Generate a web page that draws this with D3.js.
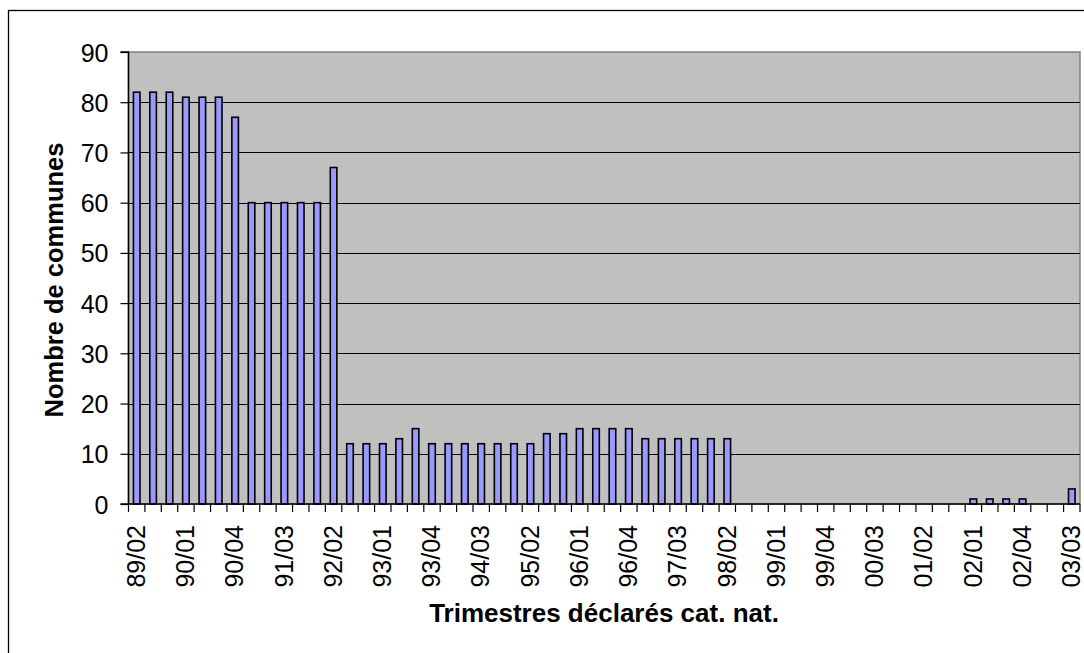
<!DOCTYPE html>
<html><head><meta charset="utf-8">
<script src="https://cdn.jsdelivr.net/npm/d3@7"></script>
<style>
html,body{margin:0;padding:0;background:#fff;}
svg{display:block;}
text{font-family:"Liberation Sans",Arial,sans-serif;}
</style></head>
<body>
<svg id="chart" width="1084" height="653"></svg>
<script>
const categories = ["89/02","89/03","89/04","90/01","90/02","90/03","90/04","91/01","91/02","91/03","91/04","92/01","92/02","92/03","92/04","93/01","93/02","93/03","93/04","94/01","94/02","94/03","94/04","95/01","95/02","95/03","95/04","96/01","96/02","96/03","96/04","97/01","97/02","97/03","97/04","98/01","98/02","98/03","98/04","99/01","99/02","99/03","99/04","00/01","00/02","00/03","00/04","01/01","01/02","01/03","01/04","02/01","02/02","02/03","02/04","03/01","03/02","03/03"];
const values = [82,82,82,81,81,81,77,60,60,60,60,60,67,12,12,12,13,15,12,12,12,12,12,12,12,14,14,15,15,15,15,13,13,13,13,13,13,0,0,0,0,0,0,0,0,0,0,0,0,0,0,1,1,1,1,0,0,3];
const yTicks = [0,10,20,30,40,50,60,70,80,90];
const xTickLabels = categories.filter((d,i)=>i%3===0);
const yTitle = "Nombre de communes";
const xTitle = "Trimestres déclarés cat. nat.";

const svg = d3.select("#chart");
const L = 128.5, R = 1080, T = 52, B = 504;

// outer frame
svg.append("rect").attr("x",8.5).attr("y",10.5).attr("width",1200).attr("height",800)
  .attr("fill","#fff").attr("stroke","#000").attr("stroke-width",1.3);

const x = d3.scaleBand().domain(categories).range([L,R]).paddingInner(0.6).paddingOuter(0.3);
const y = d3.scaleLinear().domain([0,90]).range([B,T]);

// plot area
svg.append("rect").attr("x",L).attr("y",T).attr("width",R-L).attr("height",B-T)
  .attr("fill","#c0c0c0").attr("stroke","#808080").attr("stroke-width",1.5);

// gridlines
svg.append("g").selectAll("line").data(yTicks.filter(d=>d>0&&d<90)).join("line")
  .attr("x1",L).attr("x2",R).attr("y1",d=>Math.round(y(d))+0.5).attr("y2",d=>Math.round(y(d))+0.5)
  .attr("stroke","#000").attr("stroke-width",1);

// bars
const barData = values.map((v,i)=>({c:categories[i],v})).filter(d=>d.v>0);
svg.append("g").selectAll("rect").data(barData).join("rect")
  .attr("x",d=>x(d.c)).attr("width",x.bandwidth())
  .attr("y",d=>y(d.v)).attr("height",d=>B-y(d.v))
  .attr("fill","#9999ff").attr("stroke","#000").attr("stroke-width",1.6);

// y axis
const yAxis = svg.append("g").attr("transform",`translate(${L},0)`)
  .call(d3.axisLeft(y).tickValues(yTicks).tickSize(8).tickPadding(12).tickFormat(d3.format("d")));
yAxis.select(".domain").attr("stroke","#000").attr("stroke-width",1.5).attr("d",`M-8,${T}H0V${B}`);
yAxis.selectAll(".tick line").attr("stroke","#000").attr("stroke-width",1.2);
yAxis.selectAll("text").attr("font-size",25).attr("fill","#000").attr("dy","0.36em");

// x axis: boundary ticks
const step = x.step();
const xg = svg.append("g");
xg.append("line").attr("x1",L-8).attr("x2",R).attr("y1",B).attr("y2",B).attr("stroke","#000").attr("stroke-width",1.5);
xg.selectAll("line.t").data(d3.range(categories.length+1)).join("line").attr("class","t")
  .attr("x1",i=>L+i*step).attr("x2",i=>L+i*step).attr("y1",B).attr("y2",B+8)
  .attr("stroke","#000").attr("stroke-width",1.2);

const xAxis = svg.append("g").attr("transform",`translate(0,${B})`)
  .call(d3.axisBottom(x).tickValues(xTickLabels).tickSize(0).tickPadding(0));
xAxis.select(".domain").remove();
xAxis.selectAll("text").attr("font-size",25).attr("fill","#000")
  .attr("transform","rotate(-90)").attr("text-anchor","end")
  .attr("x",-21).attr("y",0).attr("dy","0.33em");

// titles
svg.append("text").attr("transform","translate(63,280) rotate(-90)")
  .attr("text-anchor","middle").attr("font-size",25.5).attr("font-weight","bold").text(yTitle);
svg.append("text").attr("x",604).attr("y",622)
  .attr("text-anchor","middle").attr("font-size",26).attr("font-weight","bold").text(xTitle);
</script>
</body></html>
